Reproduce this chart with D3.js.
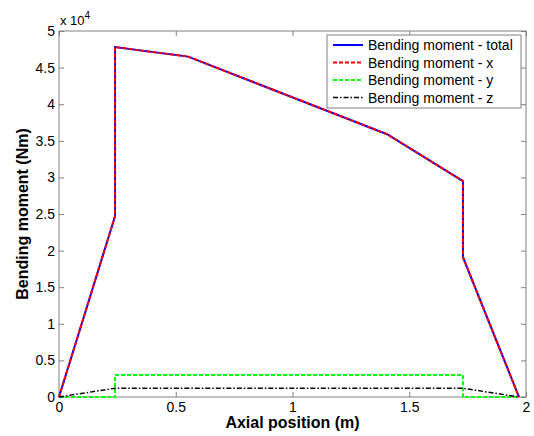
<!DOCTYPE html>
<html>
<head>
<meta charset="utf-8">
<script src="https://cdn.jsdelivr.net/npm/d3@7"></script>
<style>
  body { margin: 0; background: #fff; }
  text { font-family: "Liberation Sans", Arial, sans-serif; }
</style>
</head>
<body>
<div id="chart"></div>
<script>
// bending moment along the shaft, values in Nm
var posTotal = [0, 0.24, 0.24, 0.553, 1.405, 1.73, 1.73, 1.97];
var momentTotal = [0, 24700, 47800, 46500, 35900, 29500, 19100, 0];
var posY = [0, 0.24, 0.24, 1.73, 1.73, 1.97];
var momentY = [0, 0, 3000, 3000, 0, 0];
var posZ = [0, 0.24, 1.73, 1.97];
var momentZ = [0, 1200, 1200, 0];
var xTicks = [0, 0.5, 1, 1.5, 2];
var yTicks = [0, 0.5, 1, 1.5, 2, 2.5, 3, 3.5, 4, 4.5, 5];
var legendLabels = ['Bending moment - total', 'Bending moment - x', 'Bending moment - y', 'Bending moment - z'];

var width = 534, height = 436;
var margin = { top: 31, right: 8, bottom: 39, left: 59 };

var svg = d3.select('#chart').append('svg')
    .attr('width', width)
    .attr('height', height);

var x = d3.scaleLinear().domain([0, 2]).range([margin.left, width - margin.right]);
var y = d3.scaleLinear().domain([0, 5]).range([height - margin.bottom, margin.top]);

var axisColor = '#808080';

function styleAxis(g) {
    g.select('.domain').remove();
    g.selectAll('line').attr('stroke', axisColor);
    g.selectAll('text').attr('fill', '#000').style('font-size', '14px');
}

svg.append('g')
    .attr('transform', 'translate(0,' + y(0) + ')')
    .call(d3.axisBottom(x).tickValues(xTicks).tickFormat(d3.format('')).tickSizeInner(-5).tickPadding(5))
    .call(styleAxis);
svg.append('g')
    .attr('transform', 'translate(0,' + y(5) + ')')
    .call(d3.axisTop(x).tickValues(xTicks).tickFormat('').tickSizeInner(-5))
    .call(styleAxis);
svg.append('g')
    .attr('transform', 'translate(' + x(0) + ',0)')
    .call(d3.axisLeft(y).tickValues(yTicks).tickFormat(d3.format('')).tickSizeInner(-5).tickPadding(4))
    .call(styleAxis);
svg.append('g')
    .attr('transform', 'translate(' + x(2) + ',0)')
    .call(d3.axisRight(y).tickValues(yTicks).tickFormat('').tickSizeInner(-5))
    .call(styleAxis);

svg.append('rect')
    .attr('x', x(0)).attr('y', y(5))
    .attr('width', x(2) - x(0)).attr('height', y(0) - y(5))
    .attr('fill', 'none').attr('stroke', axisColor);

var line = d3.line()
    .x(function (d) { return x(d[0]); })
    .y(function (d) { return y(d[1] / 1e4); });

function zip(a, b) { return a.map(function (v, i) { return [v, b[i]]; }); }

var series = [
    { pts: zip(posTotal, momentTotal), color: '#0000ff', dash: null, w: 2 },
    { pts: zip(posTotal, momentTotal), color: '#ff0000', dash: '4,2', w: 2 },
    { pts: zip(posY, momentY), color: '#00ff00', dash: '4,2', w: 2 },
    { pts: zip(posZ, momentZ), color: '#000000', dash: '5,2,1.5,2', w: 1.5 }
];

var plot = svg.append('g');
series.forEach(function (s) {
    plot.append('path')
        .attr('d', line(s.pts))
        .attr('fill', 'none')
        .attr('stroke', s.color)
        .attr('stroke-width', s.w)
        .attr('stroke-dasharray', s.dash);
});

// legend
var lg = svg.append('g').attr('transform', 'translate(327,35)');
lg.append('rect')
    .attr('width', 194).attr('height', 73)
    .attr('fill', '#fff').attr('stroke', axisColor);
legendLabels.forEach(function (lab, i) {
    var s = series[i];
    var yy = 10 + i * 17.5;
    lg.append('line')
        .attr('x1', 6).attr('x2', 36).attr('y1', yy).attr('y2', yy)
        .attr('stroke', s.color)
        .attr('stroke-width', s.w)
        .attr('stroke-dasharray', s.dash);
    lg.append('text')
        .attr('x', 41).attr('y', yy + 5)
        .style('font-size', '14px')
        .text(lab);
});

// exponent label
var ex = svg.append('text').attr('x', 60).attr('y', 25).style('font-size', '13px');
ex.append('tspan').text('x 10');
ex.append('tspan').attr('dy', -6).style('font-size', '10px').text('4');

svg.append('text')
    .attr('x', (x(0) + x(2)) / 2).attr('y', 428)
    .attr('text-anchor', 'middle')
    .style('font-size', '16px').style('font-weight', 'bold')
    .text('Axial position (m)');

svg.append('text')
    .attr('transform', 'translate(28,' + ((y(0) + y(5)) / 2) + ') rotate(-90)')
    .attr('text-anchor', 'middle')
    .style('font-size', '16px').style('font-weight', 'bold')
    .text('Bending moment (Nm)');
</script>
</body>
</html>
